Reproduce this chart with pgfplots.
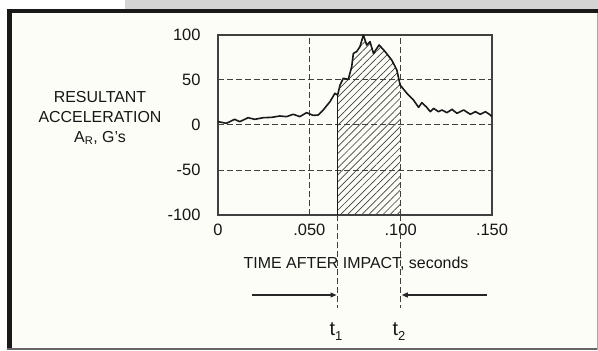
\documentclass[border=0pt]{standalone}
\usepackage{fontspec}
\setmainfont{Liberation Sans}
\usepackage{pgfplots}
\pgfplotsset{compat=1.18}
\usetikzlibrary{patterns.meta,arrows.meta}
\definecolor{bg}{HTML}{FCFDF7}
\definecolor{txt}{HTML}{161616}
\begin{document}
\begin{tikzpicture}[x=1bp,y=1bp]
% background and frame
\fill[white] (0,0) rectangle (598,350);
\fill[black!17] (125,340) rectangle (598,350);
\fill[bg] (10,2) rectangle (597,338);
\fill[black!90] (7,1) rectangle (12,340);
\fill[black!90] (7,337) rectangle (598,340.5);
\fill[black!60] (7,0) rectangle (598,2.5);
\fill[black!35] (596.5,0) rectangle (598,337);
\begin{axis}[
  at={(218bp,135bp)}, anchor=south west,
  scale only axis, width=274bp, height=180bp,
  xmin=0, xmax=0.15, ymin=-100, ymax=100,
  xtick={0,0.05,0.1,0.15}, xticklabels={0,.050,.100,.150},
  ytick={-100,-50,0,50,100},
  extra x ticks={0.05,0.1}, extra y ticks={-50,0,50},
  extra tick style={grid=major},
  extra x tick labels={}, extra y tick labels={},
  major tick length=0pt,
  axis line style={draw=black!75, line width=1.1bp},
  major grid style={draw=black!75, line width=1bp, dash pattern=on 6bp off 3bp},
  tick label style={font=\fontsize{16.5}{17}\selectfont, text=txt},
  yticklabel style={xshift=-14bp},
  xticklabel style={yshift=-6bp},
  /pgf/number format/assume math mode=true,
  clip=true,
]
\addplot[draw=none, pattern={Lines[angle=45,distance=5bp,line width=0.7bp]}, pattern color=black!75]
coordinates {(0.0655,-100) (0.0655,33.3) (0.0668,44.4) (0.0686,51.9) (0.0713,50.7) (0.0732,64.8)
 (0.0741,79.6) (0.0759,81.5) (0.0777,87) (0.0796,100) (0.0814,88.9) (0.0832,92.6) (0.0851,79.6)
 (0.0882,88.9) (0.0915,81.5) (0.0951,72.2) (0.0979,61.1) (0.1000,43.5) (0.1000,-100)} -- cycle;
\addplot[black!90, line width=1.2bp] coordinates {(0.0655,-100) (0.0655,33.3)};
\addplot[black!90, line width=1.6bp, line join=round] coordinates {
 (0,3.7) (0.0046,1.9) (0.0091,6.3) (0.0119,3.7) (0.0165,8.1) (0.0201,6.3) (0.0247,8.1)
 (0.0293,8.5) (0.0338,10) (0.0375,9.3) (0.0412,11.9) (0.0448,9.3) (0.0485,13.7) (0.0521,10.7)
 (0.0549,11.1) (0.0576,16.7) (0.0613,25.9) (0.0640,35.2) (0.0655,33.3) (0.0668,44.4)
 (0.0686,51.9) (0.0713,50.7) (0.0732,64.8) (0.0741,79.6) (0.0759,81.5) (0.0777,87)
 (0.0796,100) (0.0814,88.9) (0.0832,92.6) (0.0851,79.6) (0.0882,88.9) (0.0915,81.5)
 (0.0951,72.2) (0.0979,61.1) (0.0997,44.4) (0.1034,35.2) (0.1070,27.8) (0.1098,19.6)
 (0.1116,24.8) (0.1143,19.6) (0.1162,14.8) (0.1180,18.5) (0.1207,14.8) (0.1226,16.7)
 (0.1253,13.7) (0.1281,17.4) (0.1308,13) (0.1345,16.7) (0.1381,11.9) (0.1409,14.8)
 (0.1436,11.9) (0.1464,14.8) (0.1491,11.1) (0.15,9.3)};
\end{axis}
% y label
\node[align=center, text=txt, font=\fontsize{16}{20}\selectfont] at (100,232)
 {RESULTANT\\ACCELERATION\\A\textsubscript{R}, G's};
% x label
\node[text=txt, font=\fontsize{16}{17}\selectfont] at (356,86) {TIME AFTER IMPACT, seconds};
% t1, t2 markers
\draw[black!75, line width=1bp, dash pattern=on 6bp off 3bp] (337.6,135) -- (337.6,42);
\draw[black!75, line width=1bp, dash pattern=on 6bp off 3bp] (400.7,135) -- (400.7,42);
\draw[black!85, line width=1.2bp, -{Triangle[length=6bp,width=5bp]}] (252,55) -- (336.5,55);
\draw[black!85, line width=1.2bp, -{Triangle[length=6bp,width=5bp]}] (487,55) -- (401.8,55);
\node[text=txt, font=\fontsize{20}{20}\selectfont, anchor=base] at (336,15)
 {t\raisebox{-5bp}{\fontsize{13}{13}\selectfont 1}};
\node[text=txt, font=\fontsize{20}{20}\selectfont, anchor=base] at (399,15)
 {t\raisebox{-5bp}{\fontsize{13}{13}\selectfont 2}};
\pgfresetboundingbox
\useasboundingbox (0,0) rectangle (598,350);
\end{tikzpicture}
\end{document}
